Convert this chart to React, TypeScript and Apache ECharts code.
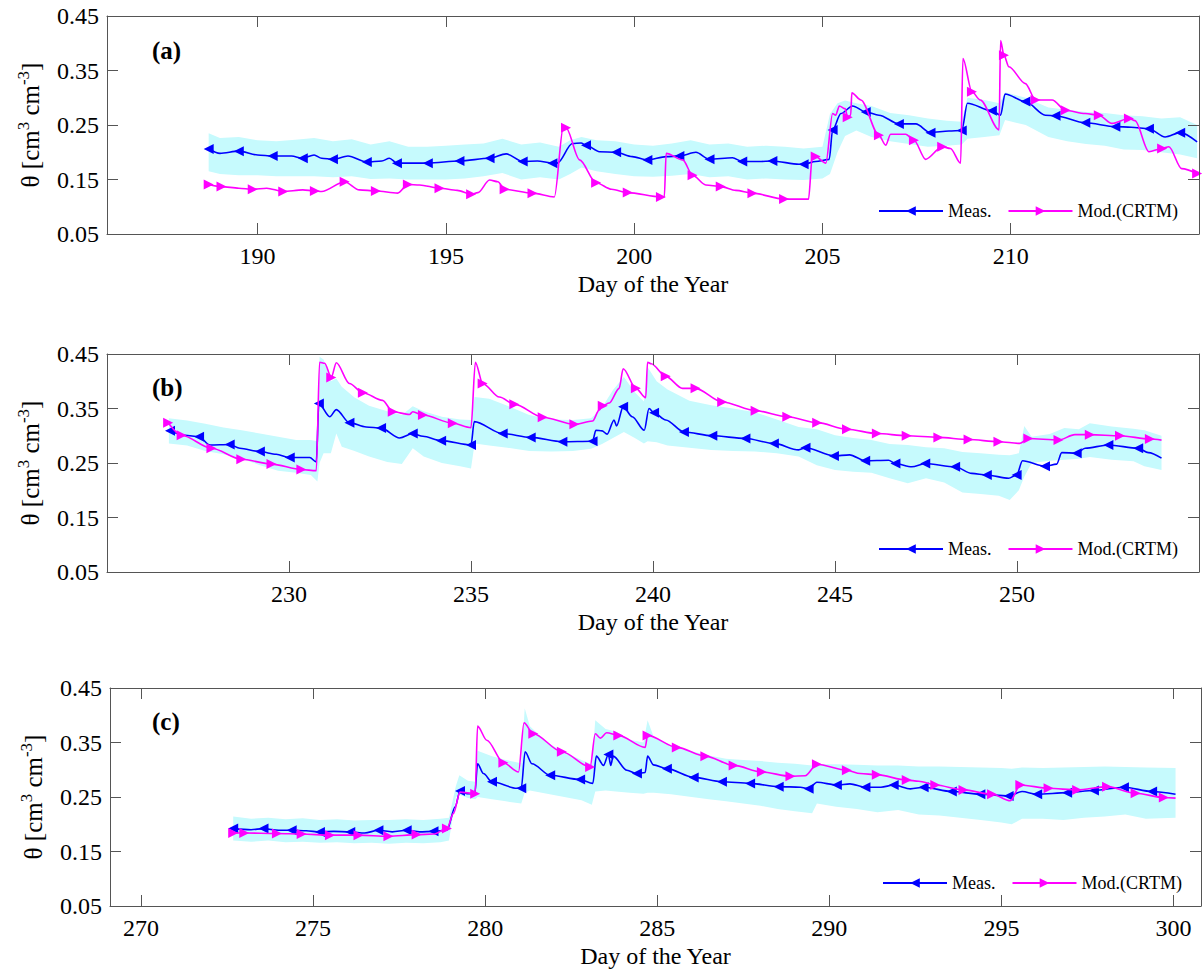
import React, { useEffect, useRef } from 'react';
import * as echarts from 'echarts';

const FONT = 'Liberation Serif';

// [day, theta, marker(1) / no marker(0)]
const measA: number[][] = [
  [188.70,0.206,1],[189.00,0.198,0],[189.50,0.202,1],[190.00,0.195,0],[190.40,0.193,1],[190.90,0.193,0],
  [191.20,0.189,1],[191.50,0.195,0],[191.70,0.189,0],[192.00,0.187,1],[192.40,0.193,0],[192.90,0.182,1],
  [193.30,0.184,0],[193.50,0.189,0],[193.70,0.180,1],[194.52,0.180,1],[195.36,0.184,1],[196.16,0.189,1],
  [196.60,0.197,0],[197.04,0.183,1],[197.43,0.184,0],[197.83,0.180,1],[197.96,0.180,0],[198.36,0.216,0],
  [198.59,0.217,0],[198.72,0.213,1],[199.08,0.201,0],[199.52,0.200,1],[199.95,0.192,0],[200.35,0.186,1],
  [200.85,0.192,0],[201.20,0.193,1],[201.64,0.200,0],[202.00,0.187,1],[202.61,0.190,0],[202.87,0.183,1],
  [203.32,0.183,0],[203.67,0.184,1],[204.38,0.178,0],[204.50,0.178,1],[204.82,0.183,0],[205.18,0.187,0],
  [205.27,0.241,1],[205.49,0.271,0],[205.80,0.285,0],[206.15,0.274,1],[206.50,0.268,0],[207.03,0.252,1],
  [207.48,0.252,0],[207.87,0.236,1],[208.36,0.239,0],[208.70,0.240,1],[208.85,0.290,0],[209.50,0.276,1],
  [209.73,0.268,0],[209.85,0.307,0],[210.39,0.293,1],[210.92,0.268,0],[211.19,0.267,1],[211.98,0.254,1],
  [212.78,0.247,1],[213.20,0.246,0],[213.67,0.243,1],[214.10,0.228,0],[214.50,0.236,1],[214.95,0.219,0]
];
const modA: number[][] = [
  [188.70,0.141,1],[189.04,0.137,1],[189.50,0.134,0],[189.87,0.132,1],[190.24,0.134,0],[190.68,0.128,1],
  [191.20,0.131,0],[191.52,0.129,1],[191.70,0.128,0],[192.31,0.146,1],[192.70,0.131,0],[193.14,0.129,1],
  [193.72,0.125,0],[193.99,0.141,1],[194.30,0.140,0],[194.83,0.134,1],[195.30,0.130,0],[195.67,0.123,1],
  [195.85,0.126,0],[196.16,0.149,0],[196.38,0.146,0],[196.56,0.132,1],[197.30,0.125,1],[197.88,0.118,0],
  [198.12,0.247,0],[198.19,0.245,1],[198.55,0.186,0],[198.99,0.144,1],[199.40,0.132,0],[199.83,0.126,1],
  [200.71,0.118,1],[200.80,0.118,0],[200.85,0.198,0],[201.29,0.186,0],[201.55,0.158,1],[201.90,0.140,0],
  [202.30,0.137,1],[202.70,0.130,0],[203.14,0.125,1],[203.98,0.114,1],[204.63,0.114,0],[204.73,0.192,0],
  [204.82,0.192,1],[205.09,0.180,0],[205.27,0.271,0],[205.35,0.268,0],[205.45,0.285,0],[205.60,0.280,0],
  [205.67,0.264,1],[205.75,0.268,0],[205.78,0.309,0],[206.02,0.296,0],[206.50,0.231,1],[206.68,0.213,0],
  [206.81,0.233,0],[207.21,0.233,0],[207.43,0.222,1],[207.74,0.187,0],[208.18,0.210,1],[208.40,0.207,0],
  [208.67,0.180,0],[208.73,0.372,0],[208.97,0.311,1],[209.19,0.296,0],[209.69,0.241,0],[209.73,0.405,0],
  [209.82,0.378,1],[209.95,0.357,0],[210.39,0.326,0],[210.66,0.296,1],[211.10,0.296,0],[211.46,0.277,1],
  [211.98,0.271,0],[212.34,0.268,1],[212.69,0.253,0],[213.14,0.262,1],[213.30,0.258,0],[213.67,0.201,0],
  [214.02,0.207,1],[214.20,0.210,0],[214.54,0.170,0],[214.95,0.161,1]
];
// [day, lower, upper]
const bandA: number[][] = [
  [188.70,0.165,0.235],[189.00,0.160,0.226],[189.50,0.158,0.228],[190.00,0.158,0.222],[190.50,0.156,0.220],
  [191.00,0.156,0.223],[191.50,0.156,0.226],[192.00,0.154,0.220],[192.50,0.156,0.224],[193.00,0.151,0.214],
  [193.50,0.152,0.220],[194.00,0.150,0.210],[194.50,0.150,0.210],[195.00,0.150,0.212],[195.50,0.152,0.214],
  [196.00,0.156,0.216],[196.50,0.162,0.225],[197.00,0.150,0.214],[197.50,0.154,0.218],[198.00,0.150,0.210],
  [198.30,0.160,0.222],[198.60,0.172,0.228],[199.00,0.165,0.222],[199.50,0.160,0.220],[200.00,0.156,0.214],
  [200.50,0.155,0.212],[201.00,0.157,0.216],[201.50,0.160,0.222],[202.00,0.154,0.214],[202.50,0.156,0.216],
  [203.00,0.150,0.210],[203.50,0.152,0.212],[204.00,0.150,0.210],[204.50,0.149,0.207],[205.00,0.152,0.210],
  [205.20,0.160,0.270],[205.40,0.200,0.290],[205.60,0.230,0.295],[205.90,0.240,0.290],[206.30,0.228,0.285],
  [206.80,0.220,0.272],[207.30,0.215,0.268],[207.80,0.210,0.262],[208.30,0.212,0.258],[208.70,0.214,0.256],
  [208.85,0.225,0.300],[209.30,0.228,0.296],[209.70,0.231,0.290],[209.85,0.259,0.310],[210.40,0.250,0.300],
  [211.00,0.228,0.282],[211.50,0.220,0.278],[212.00,0.215,0.274],[212.50,0.212,0.272],[213.00,0.205,0.268],
  [213.50,0.204,0.266],[214.00,0.200,0.262],[214.50,0.196,0.264],[214.95,0.189,0.250]
];

const measB: number[][] = [
  [226.73,0.309,1],[227.14,0.301,0],[227.53,0.298,1],[227.83,0.283,0],[228.37,0.284,1],[228.65,0.277,0],
  [229.20,0.271,1],[229.65,0.266,0],[230.02,0.260,1],[230.57,0.260,0],[230.75,0.252,0],[230.82,0.359,1],
  [231.12,0.335,0],[231.30,0.348,0],[231.66,0.324,1],[232.12,0.316,0],[232.53,0.314,1],[233.04,0.296,0],
  [233.40,0.304,1],[233.68,0.299,0],[234.18,0.291,1],[235.00,0.283,1],[235.09,0.326,0],[235.87,0.304,1],
  [236.64,0.297,1],[237.51,0.289,1],[238.34,0.290,1],[238.43,0.310,0],[238.60,0.309,0],[238.74,0.303,0],
  [238.93,0.329,0],[239.00,0.318,0],[239.18,0.353,1],[239.43,0.335,0],[239.76,0.310,0],[239.89,0.350,0],
  [240.03,0.342,1],[240.35,0.329,0],[240.85,0.307,1],[241.63,0.300,1],[242.54,0.295,1],[243.32,0.286,1],
  [244.00,0.274,0],[244.19,0.278,1],[244.97,0.263,1],[245.40,0.265,0],[245.83,0.254,1],[246.47,0.255,0],
  [246.66,0.249,1],[247.11,0.243,0],[247.48,0.249,1],[248.30,0.243,1],[248.76,0.231,0],[249.17,0.228,1],
  [249.77,0.222,0],[249.99,0.228,1],[250.15,0.254,0],[250.77,0.244,1],[251.09,0.248,0],[251.23,0.269,0],
  [251.64,0.268,1],[251.87,0.277,0],[252.51,0.283,1],[253.33,0.277,1],[253.61,0.269,0],[253.97,0.259,0]
];
const modB: number[][] = [
  [226.68,0.324,1],[227.05,0.301,1],[227.87,0.277,1],[228.69,0.257,1],[229.52,0.248,1],[230.34,0.238,1],
  [230.75,0.236,0],[230.84,0.435,0],[230.98,0.433,0],[231.16,0.407,1],[231.30,0.434,0],[231.66,0.396,0],
  [232.03,0.379,1],[232.57,0.365,0],[232.85,0.344,1],[233.31,0.339,0],[233.40,0.344,0],[233.68,0.338,1],
  [234.50,0.323,1],[235.00,0.315,0],[235.12,0.435,0],[235.32,0.396,1],[235.78,0.371,0],[236.19,0.358,1],
  [236.97,0.334,1],[237.84,0.321,1],[238.34,0.327,0],[238.52,0.347,0],[238.62,0.355,1],[238.80,0.360,0],
  [239.07,0.387,0],[239.18,0.423,0],[239.53,0.387,1],[239.80,0.370,0],[239.85,0.435,0],[239.95,0.432,0],
  [240.35,0.409,1],[240.81,0.387,0],[241.17,0.387,1],[241.90,0.362,1],[242.82,0.346,1],[243.69,0.335,1],
  [244.51,0.324,1],[245.33,0.312,1],[246.15,0.304,1],[246.97,0.300,1],[247.84,0.297,1],[248.67,0.293,1],
  [249.49,0.289,1],[250.08,0.286,0],[250.31,0.295,1],[251.14,0.292,1],[251.59,0.302,0],[252.00,0.302,1],
  [252.83,0.300,1],[253.65,0.294,1],[253.97,0.292,0]
];
const bandB: number[][] = [
  [226.70,0.286,0.332],[227.20,0.282,0.328],[227.70,0.272,0.322],[228.20,0.266,0.315],[228.70,0.258,0.310],
  [229.20,0.246,0.304],[229.70,0.236,0.298],[230.20,0.232,0.292],[230.60,0.228,0.292],[230.78,0.216,0.290],
  [230.84,0.250,0.445],[230.95,0.268,0.440],[231.15,0.268,0.400],[231.30,0.304,0.405],[231.45,0.280,0.390],
  [231.80,0.272,0.370],[232.20,0.262,0.355],[232.70,0.252,0.345],[233.10,0.248,0.338],[233.40,0.277,0.354],
  [233.70,0.262,0.345],[234.20,0.250,0.335],[234.70,0.244,0.330],[235.00,0.240,0.329],[235.10,0.286,0.371],
  [235.50,0.282,0.368],[236.00,0.278,0.355],[236.60,0.272,0.338],[237.20,0.271,0.330],[237.80,0.272,0.329],
  [238.30,0.276,0.332],[238.60,0.285,0.352],[238.90,0.296,0.384],[239.20,0.307,0.408],[239.50,0.296,0.380],
  [239.75,0.286,0.363],[239.85,0.290,0.426],[240.10,0.288,0.400],[240.40,0.282,0.385],[241.00,0.278,0.364],
  [241.60,0.274,0.356],[242.20,0.272,0.350],[242.80,0.271,0.343],[243.40,0.268,0.330],[244.00,0.262,0.316],
  [244.50,0.246,0.312],[245.00,0.237,0.301],[245.50,0.234,0.296],[246.00,0.232,0.292],[246.50,0.222,0.285],
  [247.00,0.213,0.283],[247.50,0.222,0.279],[248.00,0.214,0.277],[248.50,0.196,0.270],[249.00,0.193,0.268],
  [249.50,0.190,0.265],[249.80,0.182,0.264],[250.05,0.200,0.268],[250.20,0.225,0.318],[250.40,0.250,0.298],
  [250.90,0.254,0.303],[251.30,0.256,0.314],[251.70,0.258,0.312],[252.00,0.261,0.323],[252.60,0.256,0.317],
  [253.20,0.253,0.313],[253.50,0.244,0.310],[253.97,0.237,0.300]
];

const measC: number[][] = [
  [272.68,0.192,1],[273.20,0.190,0],[273.56,0.192,1],[274.00,0.189,0],[274.38,0.189,1],[274.80,0.188,0],
  [275.20,0.186,1],[275.60,0.187,0],[276.08,0.186,1],[276.50,0.184,0],[276.90,0.189,1],[277.30,0.186,0],
  [277.72,0.189,1],[278.10,0.186,0],[278.50,0.187,1],[278.89,0.189,0],[279.13,0.232,0],[279.27,0.261,1],
  [279.47,0.256,0],[279.70,0.256,0],[279.78,0.311,0],[279.95,0.293,0],[280.20,0.278,1],[280.92,0.266,0],
  [281.05,0.266,1],[281.16,0.333,0],[281.36,0.311,0],[281.89,0.290,1],[282.76,0.282,1],[283.13,0.275,0],
  [283.23,0.325,0],[283.44,0.308,0],[283.58,0.328,1],[283.65,0.308,0],[283.72,0.325,0],[284.12,0.299,0],
  [284.41,0.293,1],[284.65,0.295,0],[284.72,0.325,0],[284.89,0.309,0],[285.28,0.302,1],[286.06,0.286,1],
  [286.88,0.278,1],[287.70,0.275,1],[288.53,0.269,1],[289.16,0.268,0],[289.40,0.265,1],[289.64,0.277,0],
  [290.22,0.272,1],[290.60,0.274,0],[291.05,0.268,1],[291.50,0.268,0],[291.87,0.272,1],[292.36,0.265,0],
  [292.74,0.268,1],[293.56,0.260,1],[294.39,0.255,1],[295.21,0.252,1],[295.60,0.260,0],[296.04,0.255,1],
  [296.91,0.258,1],[297.69,0.262,1],[298.56,0.268,1],[299.38,0.260,1],[300.06,0.255,0]
];
const modC: number[][] = [
  [272.68,0.184,1],[273.00,0.184,1],[273.95,0.183,1],[274.67,0.182,1],[275.49,0.180,1],[276.32,0.180,1],
  [277.19,0.178,1],[278.01,0.181,1],[278.50,0.182,0],[278.89,0.192,1],[279.08,0.220,0],[279.27,0.259,0],
  [279.71,0.256,1],[279.78,0.380,0],[280.05,0.354,0],[280.53,0.313,1],[280.97,0.296,0],[281.13,0.386,0],
  [281.40,0.366,1],[282.23,0.333,1],[283.05,0.305,1],[283.20,0.366,0],[283.35,0.358,0],[283.53,0.368,0],
  [283.87,0.363,1],[284.65,0.341,0],[284.72,0.363,1],[285.57,0.341,1],[286.40,0.325,1],[287.22,0.308,1],
  [288.04,0.296,1],[288.87,0.288,1],[289.30,0.289,0],[289.64,0.310,1],[290.51,0.299,1],[290.90,0.293,0],
  [291.38,0.291,1],[292.25,0.281,1],[292.60,0.279,0],[293.08,0.272,1],[293.90,0.263,1],[294.73,0.255,1],
  [295.26,0.243,0],[295.55,0.272,1],[296.37,0.266,1],[297.20,0.263,1],[298.07,0.269,1],[298.90,0.257,1],
  [299.72,0.249,1],[300.06,0.248,0]
];
const bandC: number[][] = [
  [272.68,0.170,0.214],[273.20,0.168,0.210],[273.70,0.170,0.212],[274.20,0.167,0.209],[274.70,0.168,0.211],
  [275.20,0.166,0.208],[275.70,0.167,0.209],[276.20,0.165,0.207],[276.70,0.166,0.208],[277.20,0.164,0.208],
  [277.70,0.166,0.209],[278.20,0.165,0.208],[278.70,0.167,0.210],[278.95,0.170,0.212],[279.15,0.250,0.270],
  [279.25,0.254,0.290],[279.50,0.248,0.280],[279.72,0.246,0.278],[279.78,0.250,0.335],[280.20,0.246,0.325],
  [280.60,0.242,0.318],[281.05,0.238,0.312],[281.15,0.258,0.413],[281.30,0.262,0.380],[281.80,0.256,0.350],
  [282.30,0.250,0.332],[282.80,0.244,0.318],[283.10,0.236,0.310],[283.20,0.260,0.391],[283.50,0.262,0.375],
  [283.80,0.260,0.370],[284.20,0.258,0.355],[284.60,0.256,0.350],[284.72,0.258,0.391],[284.90,0.258,0.360],
  [285.40,0.255,0.345],[286.00,0.250,0.334],[286.50,0.246,0.326],[287.00,0.242,0.320],[287.50,0.238,0.318],
  [288.00,0.234,0.316],[288.50,0.228,0.313],[289.00,0.224,0.311],[289.50,0.220,0.308],[289.64,0.238,0.310],
  [290.20,0.232,0.310],[290.80,0.228,0.309],[291.40,0.222,0.308],[292.00,0.226,0.308],[292.60,0.218,0.306],
  [293.20,0.216,0.306],[293.80,0.212,0.305],[294.40,0.208,0.304],[295.00,0.203,0.303],[295.30,0.200,0.302],
  [295.60,0.210,0.304],[296.20,0.210,0.303],[296.80,0.208,0.304],[297.40,0.212,0.305],[298.00,0.214,0.306],
  [298.60,0.218,0.305],[299.20,0.210,0.304],[300.06,0.212,0.303]
];

const xTicksA = [190, 195, 200, 205, 210];
const xTicksB = [230, 235, 240, 245, 250];
const xTicksC = [270, 275, 280, 285, 290, 295, 300];
const xRanges = [[186, 215], [225, 255], [269.1, 300.8]];
const panelLabels = ['(a)', '(b)', '(c)'];
const seriesNames = ['Meas.', 'Mod.(CRTM)'];
const xTitle = 'Day of the Year';

const panels = [
  { meas: measA, mod: modA, band: bandA, ticks: xTicksA },
  { meas: measB, mod: modB, band: bandB, ticks: xTicksB },
  { meas: measC, mod: modC, band: bandC, ticks: xTicksC },
];

const grids = [
  { left: 107, top: 16, width: 1092, height: 218 },
  { left: 107, top: 354, width: 1092, height: 218 },
  { left: 110, top: 688, width: 1091, height: 218 },
];
const legendPos = [
  { left: 873, top: 197 },
  { left: 873, top: 535 },
  { left: 877, top: 869 },
];
const labelPos = [
  { left: 152, top: 38 },
  { left: 152, top: 375 },
  { left: 152, top: 709 },
];

const AXIS_COLOR = '#555';
const BLUE = '#0000ff';
const MAGENTA = '#ff00ff';
const CYAN = '#c6fafd';
const labelRich = { v: { fontFamily: FONT, fontSize: 24, color: '#000' } };

function bandRenderer(band: number[][]) {
  return (params: any, api: any) => {
    if (params.dataIndex !== 0) return null;
    const lower = band.map((b) => api.coord([b[0], b[1]]));
    const upper = band.map((b) => api.coord([b[0], b[2]])).reverse();
    return {
      type: 'polygon',
      shape: { points: lower.concat(upper) },
      style: { fill: CYAN, stroke: 'none' },
      silent: true,
    };
  };
}

function buildOption() {
  const xAxis: any[] = [];
  const yAxis: any[] = [];
  const series: any[] = [];
  const legend: any[] = [];
  const graphic: any[] = [];

  panels.forEach((p, i) => {
    const [xmin, xmax] = xRanges[i];
    xAxis.push({
      type: 'value', gridIndex: i, position: 'bottom', min: xmin, max: xmax,
      axisLine: { show: true, onZero: false, lineStyle: { color: AXIS_COLOR, width: 1 } },
      axisTick: { show: true, inside: true, length: 11, customValues: p.ticks, lineStyle: { color: AXIS_COLOR } },
      axisLabel: {
        show: true, customValues: p.ticks, margin: 10, color: '#000', fontFamily: FONT, fontSize: 24,
        formatter: (v: number) => `{v|${v}}`, rich: labelRich,
      },
      splitLine: { show: false },
      name: xTitle, nameLocation: 'middle', nameGap: 38,
      nameTextStyle: { color: '#000', fontFamily: FONT, fontSize: 24 },
      z: 5,
    });
    xAxis.push({
      type: 'value', gridIndex: i, position: 'top', min: xmin, max: xmax,
      axisLine: { show: true, onZero: false, lineStyle: { color: AXIS_COLOR, width: 1 } },
      axisTick: { show: true, inside: true, length: 11, customValues: p.ticks, lineStyle: { color: AXIS_COLOR } },
      axisLabel: { show: false },
      splitLine: { show: false },
      z: 5,
    });
    yAxis.push({
      type: 'value', gridIndex: i, position: 'left', min: 0.05, max: 0.45, interval: 0.1,
      axisLine: { show: true, onZero: false, lineStyle: { color: AXIS_COLOR, width: 1 } },
      axisTick: { show: true, inside: true, length: 11, lineStyle: { color: AXIS_COLOR } },
      axisLabel: {
        show: true, margin: 8, color: '#000', fontFamily: FONT, fontSize: 24,
        formatter: (v: number) => `{v|${v.toFixed(2)}}`, rich: labelRich,
      },
      splitLine: { show: false },
      name: '{t|θ [cm}{s|3}{t| cm}{s|-3}{t|]}',
      nameLocation: 'middle', nameGap: 62,
      nameTextStyle: {
        color: '#000', fontFamily: FONT, fontSize: 24,
        rich: {
          t: { fontFamily: FONT, fontSize: 25, lineHeight: 30, color: '#000' },
          s: { fontFamily: FONT, fontSize: 17, lineHeight: 30, verticalAlign: 'top', color: '#000' },
        },
      },
      z: 5,
    });
    yAxis.push({
      type: 'value', gridIndex: i, position: 'right', min: 0.05, max: 0.45, interval: 0.1,
      axisLine: { show: true, onZero: false, lineStyle: { color: AXIS_COLOR, width: 1 } },
      axisTick: { show: true, inside: true, length: 11, lineStyle: { color: AXIS_COLOR } },
      axisLabel: { show: false },
      splitLine: { show: false },
      z: 5,
    });

    const xi = 2 * i;
    const yi = 2 * i;
    series.push({
      name: 'band-' + i, type: 'custom', xAxisIndex: xi, yAxisIndex: yi, z: 1, silent: true,
      encode: { x: 0, y: [1, 2] },
      renderItem: bandRenderer(p.band),
      data: p.band,
    });
    series.push({
      name: seriesNames[0], type: 'line', xAxisIndex: xi, yAxisIndex: yi, z: 3,
      color: BLUE, lineStyle: { color: BLUE, width: 1.6 }, itemStyle: { color: BLUE },
      smooth: 0.3, smoothMonotone: 'x',
      symbol: 'triangle', symbolRotate: 90, symbolSize: 10, showSymbol: true, showAllSymbol: true,
      data: p.meas.map((d) => ({ value: [d[0], d[1]], symbol: d[2] ? 'triangle' : 'none' })),
    });
    series.push({
      name: seriesNames[1], type: 'line', xAxisIndex: xi, yAxisIndex: yi, z: 4,
      color: MAGENTA, lineStyle: { color: MAGENTA, width: 1.6 }, itemStyle: { color: MAGENTA },
      smooth: 0.3, smoothMonotone: 'x',
      symbol: 'triangle', symbolRotate: -90, symbolSize: 10, showSymbol: true, showAllSymbol: true,
      data: p.mod.map((d) => ({ value: [d[0], d[1]], symbol: d[2] ? 'triangle' : 'none' })),
    });

    legend.push({
      data: seriesNames, left: legendPos[i].left, top: legendPos[i].top, orient: 'horizontal',
      itemWidth: 64, itemHeight: 12, itemGap: 16, selectedMode: false,
      textStyle: { color: '#000', fontFamily: FONT, fontSize: 18 },
    });

    graphic.push({
      type: 'text', left: labelPos[i].left, top: labelPos[i].top, z: 10,
      style: { text: panelLabels[i], font: `bold 25px ${FONT}`, fill: '#000' },
    });
  });

  return {
    animation: false,
    backgroundColor: '#fff',
    textStyle: { fontFamily: FONT },
    grid: grids.map((g) => ({ ...g, containLabel: false })),
    xAxis, yAxis, series, legend, graphic,
  };
}

export default function App() {
  const ref = useRef<HTMLDivElement>(null);
  useEffect(() => {
    if (!ref.current) return;
    const chart = echarts.init(ref.current, undefined, { renderer: 'svg' });
    chart.setOption(buildOption() as any);
    return () => chart.dispose();
  }, []);
  return (
    <div
      ref={ref}
      style={{ position: 'absolute', left: 0, top: 0, width: 1203, height: 973, background: '#fff' }}
    />
  );
}
